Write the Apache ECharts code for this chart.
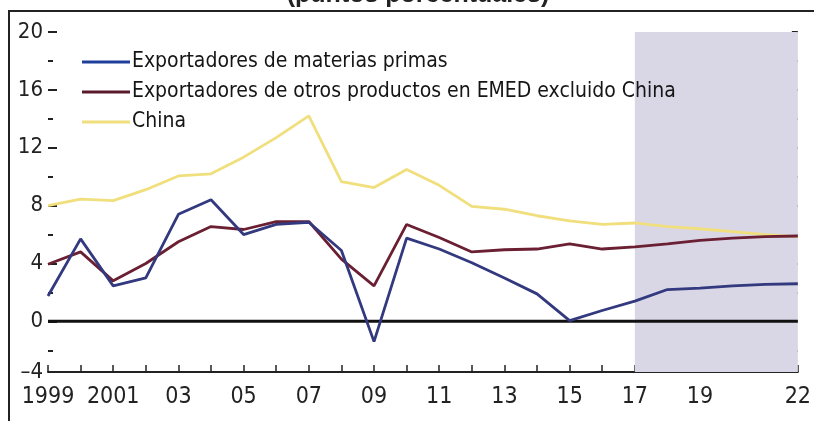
<!DOCTYPE html>
<html>
<head>
<meta charset="utf-8">
<script src="https://cdn.jsdelivr.net/npm/echarts@6/dist/echarts.min.js"></script>
<style>
html,body{margin:0;padding:0;background:#fff;}
#c{width:814px;height:421px;}
</style>
</head>
<body>
<div id="c"></div>
<script>
// ---- data ----
var years = [1999,2000,2001,2002,2003,2004,2005,2006,2007,2008,2009,2010,2011,2012,2013,2014,2015,2016,2017,2018,2019,2020,2021,2022];
var materiasPrimas = [1.75,5.7,2.45,3.0,7.4,8.4,6.0,6.7,6.85,4.9,-1.4,5.75,5.0,4.05,3.0,1.9,0.05,0.75,1.4,2.2,2.3,2.45,2.55,2.6];
var otrosProductos = [3.95,4.8,2.8,4.0,5.5,6.55,6.35,6.9,6.9,4.3,2.45,6.7,5.8,4.8,4.95,5.0,5.35,5.0,5.15,5.35,5.6,5.75,5.85,5.9];
var china = [8.0,8.45,8.35,9.1,10.05,10.2,11.35,12.7,14.2,9.65,9.25,10.5,9.4,7.95,7.75,7.3,6.95,6.7,6.8,6.55,6.4,6.2,6.0,5.85];
var seriesNames = ['Exportadores de materias primas','Exportadores de otros productos en EMED excluido China','China'];
var xLabelYears = [1999,2001,2003,2005,2007,2009,2011,2013,2015,2017,2019,2022];
var xLabelTexts = ['1999','2001','03','05','07','09','11','13','15','17','19','22'];
var yLabelValues = [0,4,8,12,16,20];
var yBottomLabel = '\u20134';
var projectionStart = 2017, projectionEnd = 2022;
var titleText = '(puntos porcentuales)';

function pairs(vals){ return years.map(function(y,i){ return [y, vals[i]]; }); }

var yMin = -3.5, yMax = 20;
var FONT = '"Liberation Sans Narrow","DejaVu Sans Condensed","Liberation Sans",sans-serif';
var allYears = years.slice();
var evenTicks = []; for (var v = -2; v <= 20; v += 2) evenTicks.push(v);
var minorTicks = evenTicks.filter(function(v){ return v % 4 !== 0; });

var chart = echarts.init(document.getElementById('c'), null, {renderer:'canvas'});
chart.setOption({
  animation: false,
  backgroundColor: '#fff',
  grid: {left: 48, right: 16, top: 32, bottom: 49, containLabel: false},
  legend: {
    show: true,
    orient: 'vertical',
    left: 77, top: 44,
    icon: 'rect',
    itemWidth: 48, itemHeight: 3,
    itemGap: 4,
    textStyle: {fontFamily: FONT, fontSize: 21, color: '#151515', lineHeight: 26, padding: [0,0,0,-3]},
    data: seriesNames
  },
  graphic: [
    {type:'polyline', shape:{points:[[9,421],[9,11],[814,11]]}, style:{stroke:'#222', lineWidth:2, fill:null}, z:10},
    {type:'text', x:418, y:8, style:{text:titleText, font:'bold 25px "Liberation Sans",sans-serif', fill:'#222', align:'center', verticalAlign:'bottom'}, z:10}
  ],
  xAxis: {
    type: 'value', min: 1999, max: 2022,
    axisLine: {show: true, onZero: false, lineStyle: {color: '#222', width: 2}},
    axisTick: {show: true, inside: true, length: 7, lineStyle:{color:'#222', width:1.5}, customValues: allYears},
    axisLabel: {
      customValues: xLabelYears,
      formatter: function(v){ var i = xLabelYears.indexOf(v); return i >= 0 ? xLabelTexts[i] : ''; },
      fontFamily: FONT, fontSize: 23, color: '#222', margin: 14
    },
    splitLine: {show: false}
  },
  yAxis: [
    {
      type: 'value', min: yMin, max: yMax, position: 'left',
      axisLine: {show: false},
      axisTick: {show: true, inside: true, length: 9, lineStyle:{color:'#222', width:2}, customValues: yLabelValues},
      axisLabel: {
        customValues: [yMin].concat(yLabelValues),
        formatter: function(v){ return v === yMin ? yBottomLabel : String(v); },
        fontFamily: FONT, fontSize: 22, color: '#222', margin: 5
      },
      splitLine: {show: false}
    },
    {
      type: 'value', min: yMin, max: yMax, position: 'left',
      axisLine: {show: false},
      axisTick: {show: true, inside: true, length: 5, lineStyle:{color:'#222', width:2}, customValues: minorTicks},
      axisLabel: {show: false},
      splitLine: {show: false}
    },
    {
      type: 'value', min: yMin, max: yMax, position: 'right',
      axisLine: {show: false},
      axisTick: {show: true, inside: true, length: 6, lineStyle:{color:'#222', width:2}, customValues: evenTicks},
      axisLabel: {show: false},
      splitLine: {show: false}
    }
  ],
  series: [
    {
      name: 'proj', type: 'line', data: [], z: 0, silent: true,
      markArea: {silent: true, itemStyle: {color: '#d9d6e6'}, data: [[{xAxis: projectionStart}, {xAxis: projectionEnd}]]}
    },
    {
      name: 'zero', type: 'line', data: [[1999,0],[2022,0]], z: 2, symbol: 'none', silent: true,
      lineStyle: {color: '#111', width: 3}
    },
    {name: seriesNames[2], type: 'line', data: pairs(china), symbol: 'none', z: 3,
     lineStyle: {color: '#f0df7c', width: 2.8}, itemStyle: {color: '#f0df7c'}},
    {name: seriesNames[1], type: 'line', data: pairs(otrosProductos), symbol: 'none', z: 4,
     lineStyle: {color: '#6a1f33', width: 2.8}, itemStyle: {color: '#5a1a2c'}},
    {name: seriesNames[0], type: 'line', data: pairs(materiasPrimas), symbol: 'none', z: 5,
     lineStyle: {color: '#33397e', width: 2.8}, itemStyle: {color: '#1f3f9c'}}
  ]
});
</script>
</body>
</html>
